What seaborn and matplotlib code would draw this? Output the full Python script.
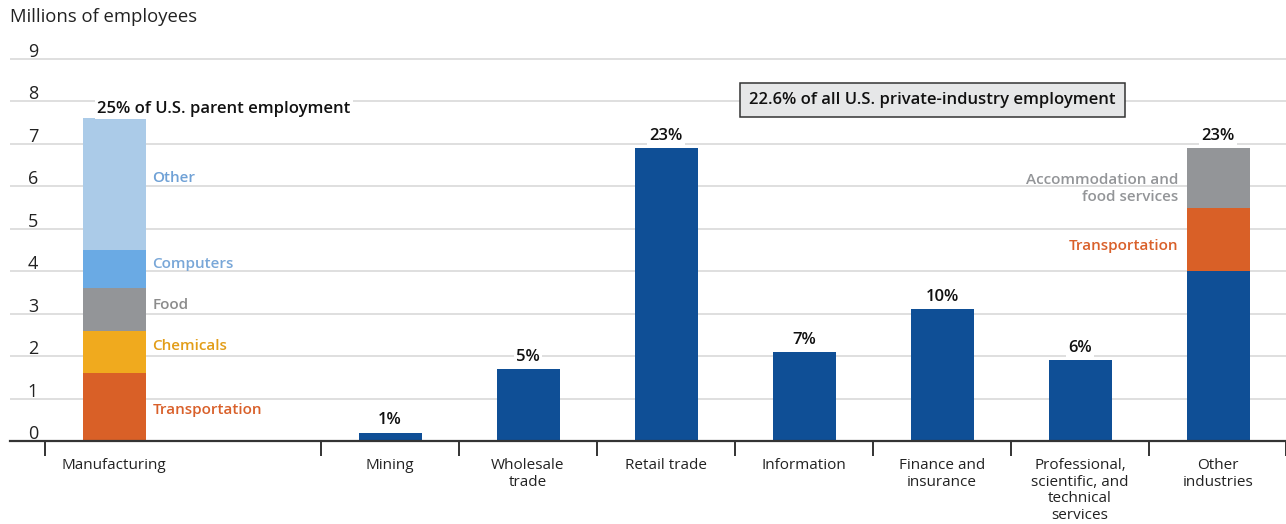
import matplotlib
matplotlib.use("Agg")
import matplotlib.pyplot as plt
import matplotlib.transforms as mtransforms
import seaborn as sns
import pandas as pd
import numpy as np

# ---- data (millions of employees) ----
categories = ["Manufacturing", "", "Mining", "Wholesale trade", "Retail trade",
              "Information", "Finance and insurance",
              "Professional, scientific, and technical services", "Other industries"]
tick_labels = ["Manufacturing", "", "Mining", "Wholesale\ntrade", "Retail trade",
               "Information", "Finance and\ninsurance",
               "Professional,\nscientific, and\ntechnical\nservices", "Other\nindustries"]

single_cats = ["Mining", "Wholesale trade", "Retail trade", "Information",
               "Finance and insurance",
               "Professional, scientific, and technical services"]
single_vals = [0.2, 1.7, 6.9, 2.1, 3.1, 1.9]
single_pct = ["1%", "5%", "23%", "7%", "10%", "6%"]

mfg_layers = ["Transportation", "Chemicals", "Food", "Computers", "Other"]
mfg_vals = [1.6, 1.0, 1.0, 0.9, 3.1]
mfg_pct = "25% of U.S. parent employment"

other_layers = ["Rest", "Transportation", "Accommodation and\nfood services"]
other_vals = [4.0, 1.5, 1.4]
other_pct = "23%"

# ---- styling ----
DARK_BLUE = "#0f4f96"
ORANGE = "#d96027"
YELLOW = "#f0aa1e"
GRAY = "#939598"
BLUE = "#6aaae4"
PALE = "#abcbe8"
mfg_colors = [ORANGE, YELLOW, GRAY, BLUE, PALE]
mfg_text_colors = ["#d9602a", "#e29d18", "#8c8c8c", "#79a7d8", "#6fa1d6"]
mfg_label_y = [0.73, 2.24, 3.2, 4.18, 6.2]
other_colors = [DARK_BLUE, ORANGE, GRAY]
other_text_colors = [None, "#d9602a", "#939598"]
other_label_y = [None, 4.6, 5.95]

FONT = "Open Sans"
sns.set_theme(style="white")
plt.rcParams["font.family"] = [FONT, "DejaVu Sans"]

W, H = 1286, 524
fig = plt.figure(figsize=(W / 100, H / 100), dpi=100)
ax_left, ax_right = 10 / W, 1286 / W
ax_bottom = (H - 441) / H
ymax = 9.2
ax_top_px = 441 - ymax * (441 - 59) / 9
ax = fig.add_axes([ax_left, ax_bottom, ax_right - ax_left, (441 - ax_top_px) / H])

BW = 63 / 138

# stacked bars: draw cumulative totals from the top layer down
rows = []
for name, top in zip(mfg_layers, np.cumsum(mfg_vals)):
    rows.append(("Manufacturing", name, top))
for name, top in zip(other_layers, np.cumsum(other_vals)):
    rows.append(("Other industries", name, top))
for c, v in zip(single_cats, single_vals):
    rows.append((c, "single", v))
df = pd.DataFrame(rows, columns=["category", "layer", "top"])

bar_kw = dict(x="category", y="top", order=categories, width=BW, saturation=1,
              ax=ax, errorbar=None, zorder=3, linewidth=0, edgecolor="none")
for layers, colors, cat in [(mfg_layers, mfg_colors, "Manufacturing"),
                            (other_layers, other_colors, "Other industries")]:
    for name, col in reversed(list(zip(layers, colors))):
        sub = df[(df.category == cat) & (df.layer == name)]
        sns.barplot(data=sub, color=col, **bar_kw)

sub = df[df.layer == "single"]
sns.barplot(data=sub, color=DARK_BLUE, **bar_kw)

ax.set_xlim((10 - 114) / 138, (1286 - 114) / 138)
ax.set_ylim(0, ymax)
ax.set_xlabel("")
ax.set_ylabel("")

# grid lines and y labels
ylab_tr = mtransforms.blended_transform_factory(ax.transAxes, ax.transData) + \
    mtransforms.ScaledTranslation(0, -2 / 100, fig.dpi_scale_trans)
for y in range(0, 10):
    if y > 0:
        ax.axhline(y, color="#d6d6d6", lw=1.1, zorder=1)
    ax.text(23 / (W - 10), y, str(y), transform=ylab_tr,
            ha="center", va="bottom", fontsize=13, color="#222222")
ax.set_yticks([])

for s in ["left", "right", "top"]:
    ax.spines[s].set_visible(False)
ax.spines["bottom"].set_color("#333333")
ax.spines["bottom"].set_linewidth(1.6)
ax.spines["bottom"].set_zorder(5)

# category labels and boundary ticks
ax.set_xticks(range(len(categories)))
ax.set_xticklabels(tick_labels, fontsize=11, color="#222222", linespacing=1.17, va="top")
ax.tick_params(axis="x", which="major", length=0, pad=12)
ax.set_xticks([-0.5, 1.5, 2.5, 3.5, 4.5, 5.5, 6.5, 7.5, 8.49], minor=True)
ax.tick_params(axis="x", which="minor", length=11, width=1.4, color="#333333", bottom=True)

# value labels above bars
lbl_kw = dict(ha="center", va="bottom", fontsize=12, fontweight="semibold", color="#111111",
              bbox=dict(facecolor="white", edgecolor="none", pad=1.5), zorder=4)
pos = {c: i for i, c in enumerate(categories)}
for c, v, p in zip(single_cats, single_vals, single_pct):
    ax.text(pos[c], v + 0.1, p, **lbl_kw)
ax.text(pos["Other industries"], sum(other_vals) + 0.1, other_pct, **lbl_kw)
kw = dict(lbl_kw)
kw["ha"] = "left"
ax.text(pos["Manufacturing"] - 0.12, sum(mfg_vals) + 0.03, mfg_pct, **kw)

# segment labels
for name, ty, tc in zip(mfg_layers, mfg_label_y, mfg_text_colors):
    ax.text(pos["Manufacturing"] + BW / 2 + 0.05, ty, name, ha="left", va="center",
            fontsize=11, fontweight="semibold", color=tc, zorder=4)
for name, ty, tc in zip(other_layers, other_label_y, other_text_colors):
    if ty is None:
        continue
    ax.text(pos["Other industries"] - BW / 2 - 0.06, ty, name, ha="right", va="center",
            fontsize=11, fontweight="semibold", color=tc, linespacing=1.25, zorder=4)

# overall share box
ax.text(5.93, 8.03, "22.6% of all U.S. private-industry employment", ha="center", va="center",
        fontsize=12, fontweight="semibold", color="#111111", zorder=6,
        bbox=dict(boxstyle="square,pad=0.55", facecolor="#e6e7e8", edgecolor="#333333", lw=1.1))

fig.text(10 / W, 1 - 17 / H, "Millions of employees", ha="left", va="center",
         fontsize=13.3, color="#222222")

fig.savefig("out.png", dpi=100)
